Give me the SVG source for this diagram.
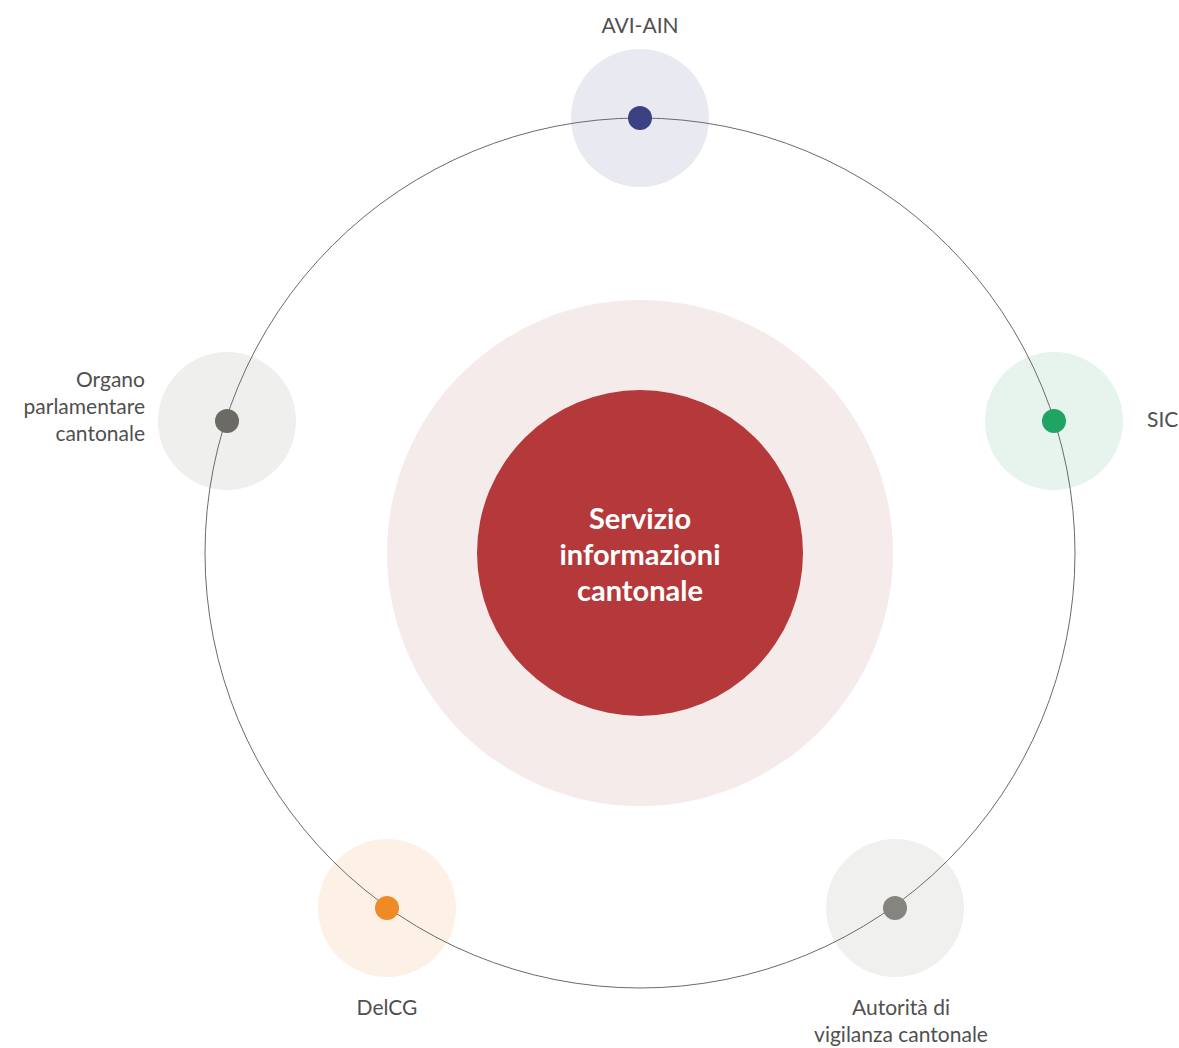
<svg xmlns="http://www.w3.org/2000/svg" width="1179" height="1048" viewBox="0 0 1179 1048">
<style>
.lbl{font-family:"Source Sans Pro",Lato,"Liberation Sans",sans-serif;font-size:21px;fill:#505050;font-weight:400}
.ctr{font-family:"Source Sans Pro",Lato,"Liberation Sans",sans-serif;font-size:29px;fill:#ffffff;font-weight:700;text-anchor:middle}
.halo{stroke:none}
.dot{stroke:none}
</style>
<rect width="1179" height="1048" fill="#ffffff"/>
<g id="halos">
<circle class="halo" cx="640" cy="118" r="69" fill="#e9eaf1"/>
<circle class="halo" cx="1054" cy="421" r="69" fill="#e6f4ed"/>
<circle class="halo" cx="227" cy="421" r="69" fill="#efefee"/>
<circle class="halo" cx="387" cy="908" r="69" fill="#fdf1e6"/>
<circle class="halo" cx="895" cy="908" r="69" fill="#f0f0ee"/>
</g>
<g id="center">
<circle cx="640" cy="553" r="253" fill="#f5ebeb"/>
<circle cx="640" cy="553" r="163" fill="#b5393a"/>
<text class="ctr" x="640" y="529">Servizio</text>
<text class="ctr" x="640" y="565">informazioni</text>
<text class="ctr" x="640" y="601">cantonale</text>
</g>
<g id="connectors">
<circle cx="640" cy="553" r="435" fill="none" stroke="#6b6b6b" stroke-width="1"/>
</g>
<g id="node-avi">
<circle class="dot" cx="640" cy="118" r="12" fill="#3b4283"/>
<text class="lbl" x="640" y="33" text-anchor="middle">AVI-AIN</text>
</g>
<g id="node-sic">
<circle class="dot" cx="1054" cy="421" r="12" fill="#1fa463"/>
<text class="lbl" x="1147" y="427">SIC</text>
</g>
<g id="node-organo">
<circle class="dot" cx="227" cy="421" r="12" fill="#6b6a64"/>
<text class="lbl" x="145" y="387" text-anchor="end">Organo</text>
<text class="lbl" x="145" y="414" text-anchor="end">parlamentare</text>
<text class="lbl" x="145" y="441" text-anchor="end">cantonale</text>
</g>
<g id="node-delcg">
<circle class="dot" cx="387" cy="908" r="12" fill="#f08a24"/>
<text class="lbl" x="387" y="1015" text-anchor="middle">DelCG</text>
</g>
<g id="node-autorita">
<circle class="dot" cx="895" cy="908" r="12" fill="#85847e"/>
<text class="lbl" x="901" y="1015" text-anchor="middle">Autorità di</text>
<text class="lbl" x="901" y="1042" text-anchor="middle">vigilanza cantonale</text>
</g>
</svg>
